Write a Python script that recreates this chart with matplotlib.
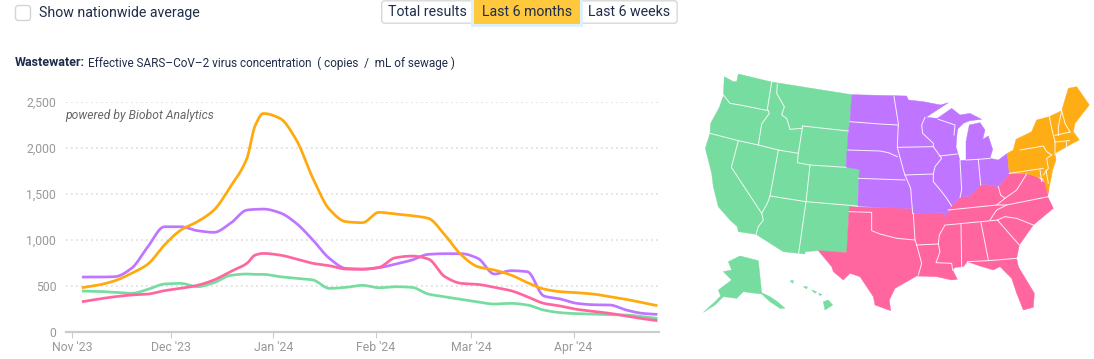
import numpy as np
import matplotlib
matplotlib.use("Agg")
import matplotlib.pyplot as plt
from matplotlib.patches import Polygon, FancyBboxPatch, Rectangle

plt.rcParams['font.family'] = ['Roboto', 'DejaVu Sans']

# ---------- data ----------
days = [3, 8, 13, 18, 23, 28, 33, 38, 43, 48, 53, 55.5, 58, 63, 68, 73, 78, 83, 88, 93, 98, 103, 108,
        113, 118, 123, 128, 133, 138, 143, 148, 153, 158, 163, 168, 173, 177.4]
northeast = [478, 507, 554, 634, 735, 942, 1105, 1196, 1322, 1576, 1884, 2240, 2372, 2319, 2083, 1667, 1330,
             1196, 1185, 1297, 1279, 1261, 1232, 1051, 833, 706, 670, 616, 533, 464, 435, 424, 409, 380, 351, 315, 283]
midwest = [594, 594, 598, 688, 924, 1141, 1141, 1098, 1080, 1177, 1322, 1330, 1333, 1293, 1177, 996, 797,
           688, 681, 696, 735, 779, 841, 848, 848, 797, 627, 663, 652, 388, 355, 308, 293, 290, 235, 199, 188]
south = [326, 355, 380, 399, 409, 446, 471, 504, 562, 652, 743, 833, 851, 833, 790, 743, 717,
         681, 678, 699, 804, 822, 790, 598, 525, 514, 482, 446, 380, 308, 279, 243, 221, 199, 170, 141, 120]
west = [442, 438, 428, 417, 460, 518, 525, 489, 533, 612, 627, 623, 623, 598, 580, 562, 471,
        482, 504, 478, 489, 482, 409, 380, 351, 322, 301, 308, 290, 235, 207, 196, 192, 185, 181, 163, 145]
tick_days = [0, 30, 61, 92, 121, 152]
tick_labels = ["Nov '23", "Dec '23", "Jan '24", "Feb '24", "Mar '24", "Apr '24"]
y_ticks = [0, 500, 1000, 1500, 2000, 2500]
buttons = ["Total results", "Last 6 months", "Last 6 weeks"]

C_W, C_M, C_S, C_N = "#76DC9F", "#BF75FF", "#FF659F", "#FFAD14"
TXT = "#1f2d4a"
W, H = 1094, 359

# ---------- map shapes (west part in x, y of a 3x grid; east part listed with offset E) ----------
E = 570
def e(pts):
    return [(x + E, y) for x, y in pts]

west_shape = [(145,12),(245,36),(485,74),(480,155),(475,183),(468,292),(508,298),(502,408),(478,410),(470,548),
              (385,542),(345,545),(345,552),(326,550),(280,545),(198,493),(145,485),(142,470),(120,450),(85,410),
              (70,350),(65,310),(46,235),(60,190),(62,160),(88,112),(100,78),(103,20),(130,35),(140,35)]
alaska = [(115,575),(150,558),(205,572),(215,668),(240,680),(262,695),(285,715),(270,715),(240,695),(215,672),
          (180,668),(160,665),(140,685),(100,680),(75,705),(40,727),(72,698),(92,678),(85,660),(125,630),(100,605),(125,600)]
hawaii = [[(400,695),(415,690),(428,705),(405,720)], [(300,632),(311,632),(308,640)],
          [(340,650),(352,650),(350,657)], [(365,660),(380,665),(375,670)], [(385,670),(396,673),(390,677)]]
south_shape = e([(-92,410),(-100,548),(-185,542),(-145,590),(-140,605),(-110,630),(-90,610),(-60,620),(-20,680),(-15,705),
                 (32,722),(28,690),(45,655),(110,618),(170,620),(215,630),(232,628),(218,600),(225,592),(250,590),
                 (262,575),(300,588),(340,600),(360,590),(395,625),(410,670),(430,720),(460,712),(463,670),(415,590),
                 (410,565),(418,525),(460,465),(520,415),(503,380),(508,340),(495,338),(470,320),(438,310),(415,312),
                 (388,310),(355,350),(305,342),(270,378),(240,382),(215,408),(195,440),(190,428),(98,430),(95,415),(0,413)])
midwest_shape = e([(-85,74),(80,78),(85,90),(130,95),(182,105),(205,98),(138,142),(172,145),(215,115),(240,135),(270,130),
                   (305,148),(270,152),(250,160),(235,175),(222,195),(232,180),(228,230),(240,272),(258,270),(258,215),
                   (268,165),(300,158),(315,180),(308,208),(325,198),(338,238),(330,265),(355,270),(382,250),(388,310),
                   (355,350),(305,342),(270,378),(240,382),(215,408),(195,440),(190,428),(98,430),(95,415),(0,413),
                   (-67,408),(-62,298),(-102,292),(-95,183),(-90,155)])
north_shape = e([(382,250),(400,240),(408,208),(455,185),(470,150),(508,140),(545,122),(565,55),(590,50),(628,105),
                 (585,160),(580,185),(598,210),(578,220),(525,250),(528,270),(518,300),(510,340),(503,372),(495,338),(488,325),
                 (470,320),(438,310),(415,312),(388,310)])
borders = [
    [(100,75),(120,100),(150,105),(235,122)], [(245,36),(232,118)], [(235,122),(238,130),(215,162),(205,225)],
    [(60,190),(145,212),(205,225),(265,240),(325,250)], [(262,42),(260,70),(283,110),(275,135),(290,145),(300,178),(335,175)],
    [(338,168),(325,250),(322,278),(360,285),(468,292)], [(338,168),(475,183)], [(360,285),(348,395)],
    [(265,240),(240,378),(348,395),(502,408)], [(348,395),(326,550)], [(145,212),(124,292),(215,430)],
    [(215,430),(232,400),(240,378)], [(215,430),(220,450),(205,470),(198,493)],
] + [e(b) for b in [
    [(42,80),(55,160),(52,232),(70,300),(75,315),(92,355),(98,430)], [(-90,155),(0,162),(55,165)],
    [(-96,240),(0,243),(25,248),(52,260)], [(-65,325),(75,330)], [(52,232),(160,230)],
    [(135,142),(125,165),(128,190),(160,220),(160,230),(185,265),(165,290),(160,312),(160,335),(185,365),(200,385),(215,408)],
    [(75,315),(160,312)], [(178,258),(232,252)], [(175,148),(225,165),(222,195)],
    [(240,272),(245,360),(240,382)], [(295,268),(302,345)], [(258,270),(295,268),(330,265)],
    [(-92,425),(-25,427),(-25,482),(0,492),(50,505),(105,510)], [(100,430),(105,510),(110,525),(125,580),(115,615)],
    [(110,525),(175,522)], [(195,465),(178,495),(175,522),(180,545),(168,578),(215,580),(218,600)],
    [(205,420),(350,405),(380,405),(505,380)], [(198,465),(355,450)], [(330,450),(350,420),(380,405)],
    [(243,462),(245,590)], [(303,458),(325,570)], [(262,575),(325,572),(410,565)], [(352,450),(418,525)],
    [(352,450),(375,440),(410,445),(460,465)], [(350,405),(375,385)], [(355,350),(362,375),(375,385),(410,360),(440,312)],
    [(420,240),(490,228),(500,245),(515,255)], [(508,140),(515,175),(525,215),(525,255)], [(545,122),(535,170),(535,196)],
    [(545,122),(555,160),(570,186)], [(525,196),(570,186)], [(525,216),(568,212)], [(558,216),(558,235)],
    [(515,255),(500,265),(505,295),(490,315)], [(388,310),(490,295)], [(480,300),(485,335)], [(498,300),(505,340)],
]]

def smooth(x, y, n=12):
    x, y = np.asarray(x, float), np.asarray(y, float)
    h = np.diff(x)
    d = np.diff(y) / h
    m = np.zeros_like(y)
    m[0], m[-1] = d[0], d[-1]
    for i in range(1, len(x) - 1):
        if d[i-1] * d[i] > 0:
            w1, w2 = 2*h[i] + h[i-1], h[i] + 2*h[i-1]
            m[i] = (w1 + w2) / (w1/d[i-1] + w2/d[i])
    xs, ys = [], []
    for i in range(len(x) - 1):
        t = np.linspace(0, 1, n, endpoint=False)
        xs.append(x[i] + t * h[i])
        ys.append((2*t**3-3*t**2+1)*y[i] + (t**3-2*t**2+t)*h[i]*m[i] + (-2*t**3+3*t**2)*y[i+1] + (t**3-t**2)*h[i]*m[i+1])
    return np.r_[np.concatenate(xs), x[-1]], np.r_[np.concatenate(ys), y[-1]]

fig = plt.figure(figsize=(W/100, H/100), dpi=100, facecolor="white")
bg = fig.add_axes([0, 0, 1, 1])
bg.set_xlim(0, W); bg.set_ylim(H, 0); bg.axis("off")

# ---------- controls ----------
bg.add_patch(FancyBboxPatch((15.5, 5.5), 15, 15, boxstyle="round,pad=0,rounding_size=3", fc="white", ec="#d4d4d4", lw=1))
bg.text(39, 13, "Show nationwide average", fontsize=10.15, color=TXT, va="center", ha="left")
bg.add_patch(FancyBboxPatch((381.7, 0.8), 295.5, 22.4, boxstyle="round,pad=0,rounding_size=3", fc="white", ec="#d8d8d8", lw=1))
bg.add_patch(Rectangle((471, 0), 112, 26.5, fc="#DDF1FB", ec="none"))
bg.add_patch(Rectangle((474, 0), 106, 23.5, fc="#FFC83D", ec="none"))
for label, cx in zip(buttons, [427, 527, 629]):
    bg.text(cx, 12.5, label, fontsize=10.2, color=TXT, ha="center", va="center")

# ---------- title ----------
bg.text(15, 63, "Wastewater:", fontsize=9.0, fontweight="bold", color=TXT, va="center", ha="left")
bg.text(88, 63, "Effective SARS\u2013CoV\u20132 virus concentration  ( copies  /  mL of sewage )", fontsize=8.5, color=TXT, va="center", ha="left")
bg.text(65, 115, "powered by Biobot Analytics", fontsize=8.7, style="italic", color="#666666", va="center", ha="left")

# ---------- map ----------
def mp(pts):
    return [(690 + x/3, 70 + y/3) for x, y in pts]
for shape, col in [(west_shape, C_W), (alaska, C_W), (south_shape, C_S), (midwest_shape, C_M), (north_shape, C_N)]:
    bg.add_patch(Polygon(mp(shape), closed=True, fc=col, ec=col, lw=0.3))
for isl in hawaii:
    bg.add_patch(Polygon(mp(isl), closed=True, fc=C_W, ec=C_W, lw=0.3))
for b in borders:
    pts = np.array(mp(b))
    bg.plot(pts[:, 0], pts[:, 1], color="white", lw=0.7, alpha=0.9, solid_joinstyle="round")

# ---------- chart ----------
left, right, top, bottom = 66, 659, 101.7, 331.7
ax = fig.add_axes([left/W, 1 - bottom/H, (right-left)/W, (bottom-top)/H], facecolor="none")
ax.set_xlim((left-72)/3.3, (right-72)/3.3)
ax.set_ylim(0, 2500)
ax.set_yticks(y_ticks)
ax.set_yticklabels([f"{v:,}" for v in y_ticks], fontsize=8.8, color="#999999")
ax.set_xticks(tick_days)
ax.set_xticklabels(tick_labels, fontsize=8.8, color="#999999")
ax.tick_params(axis="y", length=0, pad=7)
ax.tick_params(axis="x", length=4, width=0.8, color="#cccccc", pad=3)
ax.grid(axis="y", color="#dddddd", lw=1.2, linestyle=(0, (1, 2)))
ax.set_axisbelow(True)
for s in ["top", "right", "left"]:
    ax.spines[s].set_visible(False)
ax.spines["bottom"].set_color("#cccccc")
ax.spines["bottom"].set_linewidth(1.6)
for series, col in [(west, C_W), (midwest, C_M), (south, C_S), (northeast, "#FFA90D")]:
    xs, ys = smooth(days, series)
    ax.plot(xs, ys, color=col, lw=1.95, solid_capstyle="butt", clip_on=False)

fig.savefig("out.png", dpi=100)
